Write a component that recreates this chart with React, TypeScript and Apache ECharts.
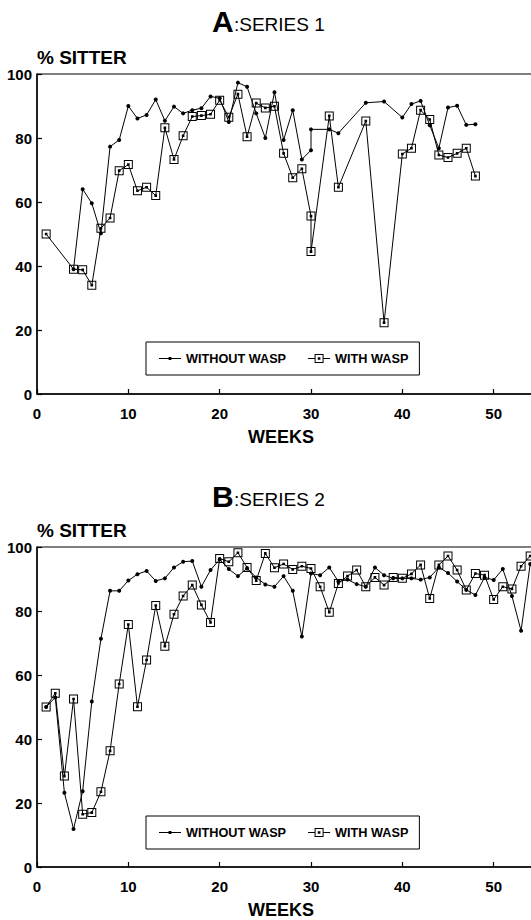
import React, { useEffect, useRef } from "react";
import * as echarts from "echarts";

// Panel A (SERIES 1)
const weeksA_without = [4,5,6,7,8,9,10,11,12,13,14,15,16,17,18,19,20,21,22,23,24,25,26,27,28,29,30,30,32,33,36,38,40,41,42,43,44,45,46,47,48];
const valuesA_without = [39,64,59.6,50.2,77.3,79.4,90,86.1,87.2,92,85.4,89.8,87.7,88.7,89.3,93,92.4,85,97.3,96,87.7,80,94.3,79.4,88.7,73.3,76.2,82.7,82.7,81.5,91,91.4,86.4,90.6,91.6,84,76.8,89.5,90.1,84.1,84.3];
const weeksA_with = [1,4,5,6,7,8,9,10,11,12,13,14,15,16,17,18,19,20,21,22,23,24,25,26,27,28,29,30,30,32,33,36,38,40,41,42,43,44,45,46,47,48];
const valuesA_with = [50,39,38.8,34,51.8,55,69.8,71.7,63.5,64.6,62,83.2,73.3,80.7,86.7,87,87.4,91.8,86.5,93.7,80.4,90.9,89.4,89.9,75.2,67.6,70.4,55.6,44.5,86.9,64.6,85.3,22.3,75,76.8,88.7,85.8,74.7,73.9,75.2,76.8,68.1];

// Panel B (SERIES 2)
const weeksB = [1,2,3,4,5,6,7,8,9,10,11,12,13,14,15,16,17,18,19,20,21,22,23,24,25,26,27,28,29,30,31,32,33,34,35,36,37,38,39,40,41,42,43,44,45,46,47,48,49,50,51,52,53,54];
const valuesB_without = [50,53,23.2,11.9,23.7,51.7,71.3,86.3,86.3,89.5,91.5,92.5,89.4,90.2,93.6,95.4,95.6,87.6,92.8,96.1,93.1,90.9,93.3,90.5,88.3,87.6,90.9,86.3,72,91.7,91.2,93.6,89.2,89.8,88.4,87.6,93.6,91.2,90.2,90.2,90.2,89.8,90.5,93.6,91.9,89.2,86.6,85,90.5,89.7,93.1,84.7,73.8,94.7];
const valuesB_with = [50,54.3,28.4,52.5,16.5,17,23.5,36.3,57.2,75.8,50.1,64.7,81.7,69,79,84.7,88.1,81.9,76.4,96.4,95.4,98.2,93.6,89.5,98,93.5,94.7,93,94,93.3,87.6,79.6,88.6,90.9,92.8,87.6,90.5,88.1,90.5,90.2,91.6,94.4,83.9,94.4,97.2,92.8,86.6,91.7,91.2,83.6,87.6,86.9,94,97.2];

const titles = ["A", "B"];
const subtitles = [":SERIES 1", ":SERIES 2"];
const yTitle = "% SITTER";
const xTitle = "WEEKS";
const legendNames = ["WITHOUT WASP", "WITH WASP"];

const FONT = "'Liberation Sans', Arial, Helvetica, sans-serif";
const SQUARE = "path://M0,0H9V9H0Z M1,1V8H8V1Z M3.2,3.2H5.8V5.8H3.2Z";
const ICON_WITHOUT = "path://M0,4.5H22V5.5H0Z M9.6,3.6H12.4V6.4H9.6Z";
const ICON_WITH = "path://M0,4.5H6.5V5.5H0Z M15.5,4.5H22V5.5H15.5Z M6.5,0.5H15.5V9.5H6.5Z M7.5,1.5V8.5H14.5V1.5Z M9.7,3.7H12.3V6.3H9.7Z";

const zip = (xs: number[], ys: number[]) => xs.map((x, i) => [x, ys[i]]);

export default function App() {
  const ref = useRef<HTMLDivElement>(null);
  useEffect(() => {
    if (!ref.current) return;
    const chart = echarts.init(ref.current, null, { renderer: "svg" });
    const tops = [74, 547];
    const off = [0, 473];
    const axisLine = { show: true, lineStyle: { color: "#000", width: 1.5 } };
    const axisTick = { show: true, inside: true, length: 5, lineStyle: { color: "#000", width: 1.2 } };
    const lbl = { color: "#000", fontSize: 15, fontWeight: "bold" as const, fontFamily: FONT };
    const lineS = (name: string, gi: number, data: number[][], withW: boolean) => ({
      type: "line",
      name,
      xAxisIndex: gi,
      yAxisIndex: gi,
      data,
      symbol: withW ? SQUARE : "circle",
      symbolSize: withW ? 9 : 4,
      symbolKeepAspect: true,
      showAllSymbol: true,
      lineStyle: { color: "#000", width: 1 },
      itemStyle: { color: "#000", borderWidth: 0 },
      emphasis: { disabled: true },
      z: withW ? 3 : 2,
    });
    const graphics: any[] = [];
    [0, 1].forEach((i) => {
      graphics.push(
        { type: "text", x: 212, y: 21 + i * 475, style: { text: titles[i], fontSize: 30, fontWeight: "bold", fontFamily: FONT, fill: "#000", verticalAlign: "middle", align: "left" } },
        { type: "text", x: 234, y: 24.7 + i * 475, style: { text: subtitles[i], fontSize: 19, fontWeight: "normal", fontFamily: FONT, fill: "#000", verticalAlign: "middle", align: "left" } },
        { type: "text", x: 37, y: 57.5 + off[i], style: { text: yTitle, fontSize: 19, fontWeight: "bold", fontFamily: FONT, fill: "#000", verticalAlign: "middle", align: "left" } },
        { type: "text", x: 281, y: 437 + off[i], style: { text: xTitle, fontSize: 18, fontWeight: "bold", fontFamily: FONT, fill: "#000", verticalAlign: "middle", align: "center" } }
      );
    });
    const legendCfg = (top: number) => ({
      left: 146,
      top,
      orient: "horizontal",
      padding: [10, 11, 10, 13],
      itemGap: 22,
      itemWidth: 22,
      itemHeight: 10,
      borderColor: "#000",
      borderWidth: 1,
      borderRadius: 0,
      selectedMode: false,
      itemStyle: { borderWidth: 0 },
      textStyle: { color: "#000", fontSize: 12.7, fontWeight: "bold", fontFamily: FONT },
      data: [
        { name: legendNames[0], icon: ICON_WITHOUT },
        { name: legendNames[1], icon: ICON_WITH },
      ],
    });
    chart.setOption({
      animation: false,
      backgroundColor: "#fff",
      grid: tops.map((t) => ({
        left: 37, top: t, width: 548, height: 320,
        outerBoundsMode: "none", containLabel: false,
        show: true, borderColor: "#000", borderWidth: 1, backgroundColor: "transparent",
      })),
      xAxis: [0, 1].map((gi) => ({
        gridIndex: gi, type: "value", min: 0, max: 60, interval: 10,
        axisLine, axisTick, splitLine: { show: false },
        axisLabel: { ...lbl, margin: 12, showMaxLabel: false, formatter: (v: number) => (v <= 50 ? String(v) : "") },
      })),
      yAxis: [0, 1].map((gi) => ({
        gridIndex: gi, type: "value", min: 0, max: 100, interval: 20,
        axisLine, axisTick, splitLine: { show: false },
        axisLabel: { ...lbl, margin: 5 },
      })),
      legend: [legendCfg(342), legendCfg(816)],
      series: [
        lineS(legendNames[0], 0, zip(weeksA_without, valuesA_without), false),
        lineS(legendNames[1], 0, zip(weeksA_with, valuesA_with), true),
        lineS(legendNames[0], 1, zip(weeksB, valuesB_without), false),
        lineS(legendNames[1], 1, zip(weeksB, valuesB_with), true),
      ],
      graphic: graphics,
    });
    return () => chart.dispose();
  }, []);
  return <div ref={ref} style={{ position: "absolute", left: 0, top: 0, width: 531, height: 920, background: "#fff" }} />;
}
